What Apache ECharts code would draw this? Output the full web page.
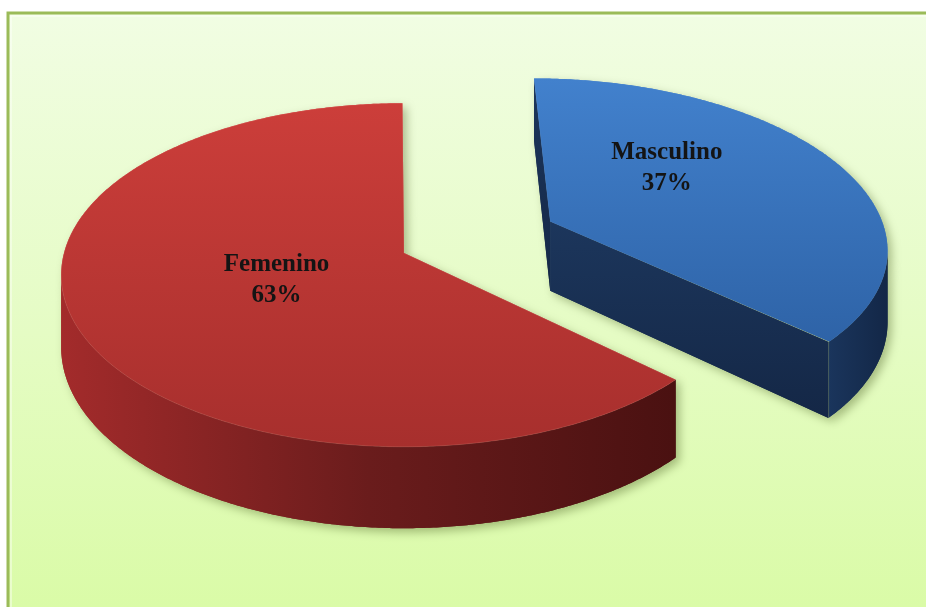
<!DOCTYPE html>
<html>
<head>
<meta charset="utf-8">
<title>Distribución por sexo</title>
<script src="https://cdn.jsdelivr.net/npm/echarts@6/dist/echarts.min.js"></script>
<style>
  html, body { margin: 0; padding: 0; background: #ffffff; }
  #chart { width: 926px; height: 607px; }
</style>
</head>
<body>
<div id="chart"></div>
<script>
// Slice data, drawn clockwise from 12 o'clock
const categories = ['Masculino', 'Femenino'];
const shares = [37, 63];

// Appearance of each slice
const sliceStyle = {
  Masculino: {
    top: ['#4281cd', '#2e63a7'],
    wall: ['#1a355c', '#132747'],
    cut: ['#1c365c', '#142746'],
    rim: 'rgba(255,255,255,0.04)',
    explode: 0.48,
    labelShift: [0, -28]
  },
  Femenino: {
    top: ['#cc3e3a', '#a72f2d'],
    wall: ['#a32b2b', '#6a1c1c', '#4a1111'],
    cut: ['#6a1c1c', '#4a1111'],
    rim: 'rgba(255,200,190,0.14)',
    explode: 0,
    labelShift: [0, 0]
  }
};

// Tilted-disc projection of the pie
const CX = 404, CY = 253;      // screen position of the pie centre
const RX = 340, RY = 169;      // radii of the top face
const P = 0.128;               // perspective strength
const H = 71;                  // thickness of the disc
const CAM = [0, 1 / P];        // viewer position in disc coordinates

function proj(mx, my, drop) {
  const k = 1 / (1 - P * my);
  return [CX + RX * mx * k, CY + RY * my * k + drop * H * k];
}

const total = shares.reduce((s, v) => s + v, 0);
const startAngles = [];
shares.reduce((acc, v) => { startAngles.push(acc); return acc + v / total * 360; }, -90);

const rad = d => d * Math.PI / 180;

function grad(colors, horizontal) {
  const stops = colors.map((c, i) => ({ offset: colors.length === 1 ? 0 : i / (colors.length - 1), color: c }));
  return horizontal
    ? new echarts.graphic.LinearGradient(0, 0, 1, 0, stops)
    : new echarts.graphic.LinearGradient(0, 0, 0, 1, stops);
}

function renderItem(params, api) {
  const i = params.dataIndex;
  const name = categories[i];
  const value = api.value(0);
  const st = sliceStyle[name];
  const a0 = startAngles[i];
  const a1 = a0 + value / total * 360;
  const mid = rad((a0 + a1) / 2);
  const c = [st.explode * Math.cos(mid), st.explode * Math.sin(mid)];
  const rim = t => [c[0] + Math.cos(rad(t)), c[1] + Math.sin(rad(t))];

  const shapes = [];

  // flat cut faces at both edges of the slice
  [[a0, 1], [a1, -1]].forEach(([a, dir]) => {
    const n = [dir * Math.sin(rad(a)), -dir * Math.cos(rad(a))];
    const m = [c[0] + 0.5 * Math.cos(rad(a)), c[1] + 0.5 * Math.sin(rad(a))];
    const facing = n[0] * (CAM[0] - m[0]) + n[1] * (CAM[1] - m[1]);
    if (facing > 0.01) {
      const r = rim(a);
      shapes.push({
        points: [proj(c[0], c[1], 0), proj(r[0], r[1], 0), proj(r[0], r[1], 1), proj(c[0], c[1], 1)],
        fill: grad(st.cut, false)
      });
    }
  });

  // curved outer wall, only the part turned towards the viewer
  const step = 0.5;
  let run = [];
  const runs = [];
  for (let t = a0; t <= a1 + 1e-9; t += step) {
    const tt = Math.min(t, a1);
    const r = rim(tt);
    const n = [Math.cos(rad(tt)), Math.sin(rad(tt))];
    const facing = n[0] * (CAM[0] - r[0]) + n[1] * (CAM[1] - r[1]);
    if (facing > 0) run.push(r);
    else if (run.length) { runs.push(run); run = []; }
  }
  if (run.length) runs.push(run);
  runs.forEach(rn => {
    if (rn.length < 2) return;
    const topArc = rn.map(p => proj(p[0], p[1], 0));
    const botArc = rn.map(p => proj(p[0], p[1], 1)).reverse();
    shapes.push({ points: topArc.concat(botArc), fill: grad(st.wall, true) });
  });

  // top face
  const topPts = [proj(c[0], c[1], 0)];
  for (let t = a0; t <= a1 + 1e-9; t += step) {
    const r = rim(Math.min(t, a1));
    topPts.push(proj(r[0], r[1], 0));
  }
  shapes.push({ points: topPts, fill: grad(st.top, false), edge: true });

  const children = [];
  // shadow pass
  shapes.forEach(s => children.push({
    type: 'polygon',
    shape: { points: s.points },
    style: {
      fill: s.fill,
      shadowBlur: 10,
      shadowOffsetX: 4,
      shadowOffsetY: 4,
      shadowColor: 'rgba(60,80,20,0.38)'
    }
  }));
  // crisp pass
  shapes.forEach(s => children.push({
    type: 'polygon',
    shape: { points: s.points },
    style: s.edge
      ? { fill: s.fill, stroke: st.rim, lineWidth: 1 }
      : { fill: s.fill }
  }));

  // label on the top face
  const lr = 0.4;
  const lp = proj(c[0] + lr * Math.cos(mid), c[1] + lr * Math.sin(mid), 0);
  children.push({
    type: 'text',
    style: {
      text: name + '\n' + value + '%',
      x: lp[0] + st.labelShift[0],
      y: lp[1] + st.labelShift[1],
      font: 'bold 25px "Liberation Serif", "Times New Roman", serif',
      fill: '#141414',
      align: 'center',
      verticalAlign: 'middle',
      textAlign: 'center',
      textVerticalAlign: 'middle',
      lineHeight: 31
    }
  });

  return { type: 'group', children };
}

const chart = echarts.init(document.getElementById('chart'), null, { renderer: 'canvas' });
chart.setOption({
  backgroundColor: '#ffffff',
  animation: false,
  graphic: [
    {
      type: 'rect',
      z: 0,
      shape: { x: 8, y: 13, width: 960, height: 640 },
      style: {
        fill: new echarts.graphic.LinearGradient(0, 0, 0, 1, [
          { offset: 0, color: '#f1fde3' },
          { offset: 0.5, color: '#e5fcc4' },
          { offset: 1, color: '#d8fba2' }
        ]),
        stroke: '#9bbb59',
        lineWidth: 3
      }
    },
    {
      type: 'rect',
      z: 0,
      shape: { x: 11, y: 16, width: 960, height: 640 },
      style: { fill: 'none', stroke: 'rgba(255,255,255,0.55)', lineWidth: 1.5 }
    }
  ],
  series: [{
    type: 'custom',
    coordinateSystem: 'none',
    z: 2,
    renderItem: renderItem,
    data: shares.map((v, i) => ({ name: categories[i], value: [v] }))
  }]
});
</script>
</body>
</html>
